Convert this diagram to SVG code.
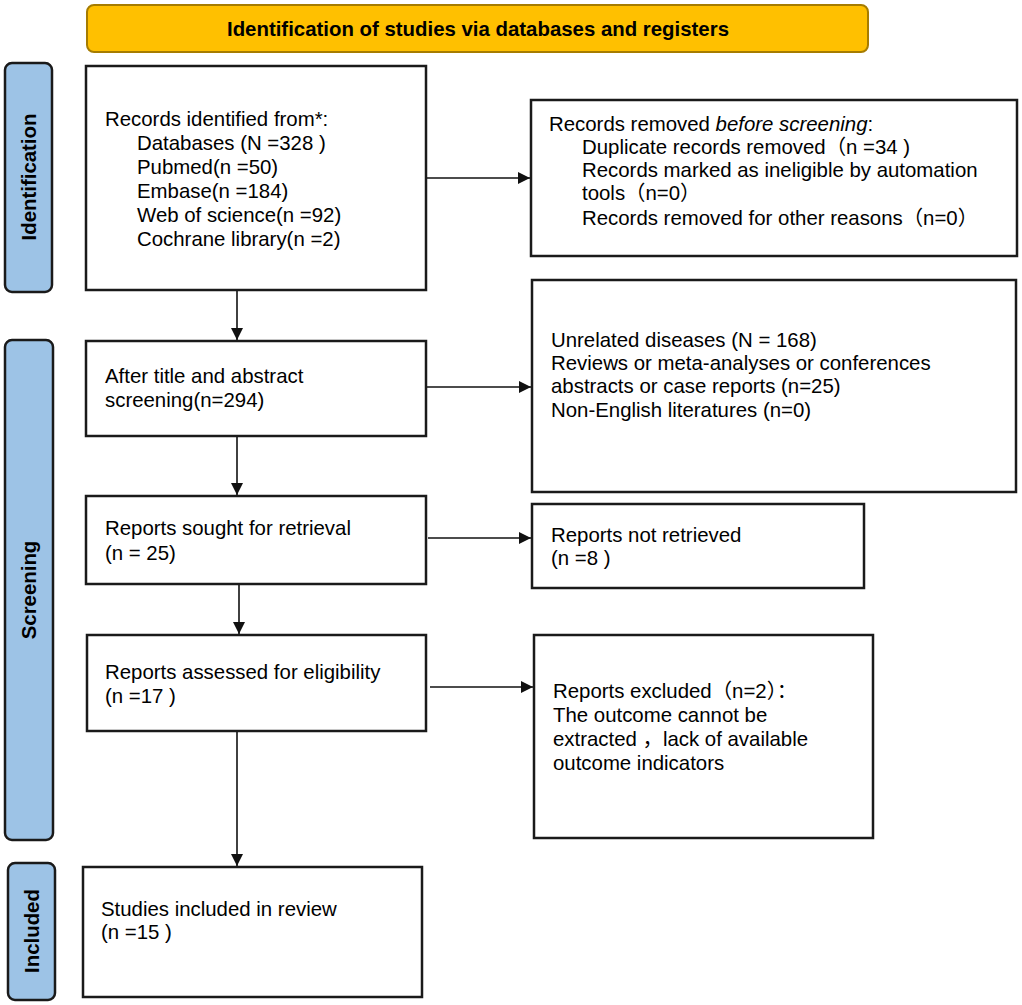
<svg xmlns="http://www.w3.org/2000/svg" width="1022" height="1005" viewBox="0 0 1022 1005">
<style>
.bg{fill:#ffffff}
.box{fill:#ffffff;stroke:#1a1a1a;stroke-width:2.5}
.side{fill:#9DC3E6;stroke:#1a1a1a;stroke-width:2.5}
.head{fill:#FFC000;stroke:#A67C00;stroke-width:2}
.t{font-family:"Liberation Sans","Noto Sans CJK SC",Arial,sans-serif;font-size:20.4px;fill:#000}
.b{font-family:"Liberation Sans",Arial,sans-serif;font-size:20.4px;font-weight:bold;fill:#000}
.c{stroke:#111;stroke-width:1.6;fill:none}
</style>
<defs>
<marker id="ah" markerUnits="userSpaceOnUse" markerWidth="13" markerHeight="12" refX="12" refY="6" orient="auto">
<path d="M0,0 L12,6 L0,12 z" fill="#111"/>
</marker>
</defs>
<rect class="bg" x="0" y="0" width="1022" height="1005"/>

<g id="header">
<rect class="head" x="87" y="5" width="781" height="47" rx="7"/>
<text class="b" x="478" y="36" text-anchor="middle">Identification of studies via databases and registers</text>
</g>

<g id="stage-identification">
<rect class="side" x="5" y="63" width="47" height="229" rx="7"/>
<text class="b" transform="translate(36,177) rotate(-90)" text-anchor="middle">Identification</text>
</g>
<g id="stage-screening">
<rect class="side" x="5" y="340" width="48" height="500" rx="7"/>
<text class="b" transform="translate(36,590) rotate(-90)" text-anchor="middle">Screening</text>
</g>
<g id="stage-included">
<rect class="side" x="8" y="863" width="47" height="137" rx="7"/>
<text class="b" transform="translate(39,931) rotate(-90)" text-anchor="middle">Included</text>
</g>

<g id="records-identified">
<rect class="box" x="86" y="66" width="340" height="224"/>
<text class="t" x="105" y="126">Records identified from*:</text>
<text class="t" x="137" y="150">Databases (N =328 )</text>
<text class="t" x="137" y="174">Pubmed(n =50)</text>
<text class="t" x="137" y="198">Embase(n =184)</text>
<text class="t" x="137" y="222">Web of science(n =92)</text>
<text class="t" x="137" y="246">Cochrane library(n =2)</text>
</g>

<g id="records-removed">
<rect class="box" x="531" y="100" width="486" height="156"/>
<text class="t" x="549" y="131">Records removed <tspan font-style="italic">before screening</tspan>:</text>
<text class="t" x="582" y="154">Duplicate records removed（n =34 )</text>
<text class="t" x="582" y="177">Records marked as ineligible by automation</text>
<text class="t" x="582" y="200">tools（n=0）</text>
<text class="t" x="582" y="225">Records removed for other reasons（n=0）</text>
</g>

<g id="after-screening">
<rect class="box" x="86" y="341" width="340" height="95"/>
<text class="t" x="105" y="383">After title and abstract</text>
<text class="t" x="105" y="407">screening(n=294)</text>
</g>

<g id="excluded-screening">
<rect class="box" x="532" y="280" width="484" height="212"/>
<text class="t" x="551" y="347">Unrelated diseases (N = 168)</text>
<text class="t" x="551" y="370">Reviews or meta-analyses or conferences</text>
<text class="t" x="551" y="393">abstracts or case reports (n=25)</text>
<text class="t" x="551" y="417">Non-English literatures (n=0)</text>
</g>

<g id="reports-sought">
<rect class="box" x="86" y="496" width="340" height="88"/>
<text class="t" x="105" y="535">Reports sought for retrieval</text>
<text class="t" x="105" y="560">(n = 25)</text>
</g>

<g id="reports-not-retrieved">
<rect class="box" x="532" y="504" width="332" height="84"/>
<text class="t" x="551" y="542">Reports not retrieved</text>
<text class="t" x="551" y="565">(n =8 )</text>
</g>

<g id="reports-assessed">
<rect class="box" x="87" y="635" width="339" height="96"/>
<text class="t" x="105" y="679">Reports assessed for eligibility</text>
<text class="t" x="105" y="703">(n =17 )</text>
</g>

<g id="reports-excluded">
<rect class="box" x="534" y="635" width="339" height="203"/>
<text class="t" x="553" y="698">Reports excluded（n=2）：</text>
<text class="t" x="553" y="722">The outcome cannot be</text>
<text class="t" x="553" y="746">extracted ，lack of available</text>
<text class="t" x="553" y="770">outcome indicators</text>
</g>

<g id="studies-included">
<rect class="box" x="83" y="867" width="339" height="130"/>
<text class="t" x="101" y="916">Studies included in review</text>
<text class="t" x="101" y="939">(n =15 )</text>
</g>

<g id="connectors">
<line class="c" x1="237" y1="291" x2="237" y2="340" marker-end="url(#ah)"/>
<line class="c" x1="237" y1="437" x2="237" y2="495" marker-end="url(#ah)"/>
<line class="c" x1="239" y1="585" x2="239" y2="634" marker-end="url(#ah)"/>
<line class="c" x1="237" y1="732" x2="237" y2="866" marker-end="url(#ah)"/>
<line class="c" x1="427" y1="178" x2="530" y2="178" marker-end="url(#ah)"/>
<line class="c" x1="427" y1="387" x2="531" y2="387" marker-end="url(#ah)"/>
<line class="c" x1="428" y1="538" x2="531" y2="538" marker-end="url(#ah)"/>
<line class="c" x1="430" y1="687" x2="533" y2="687" marker-end="url(#ah)"/>
</g>
</svg>
